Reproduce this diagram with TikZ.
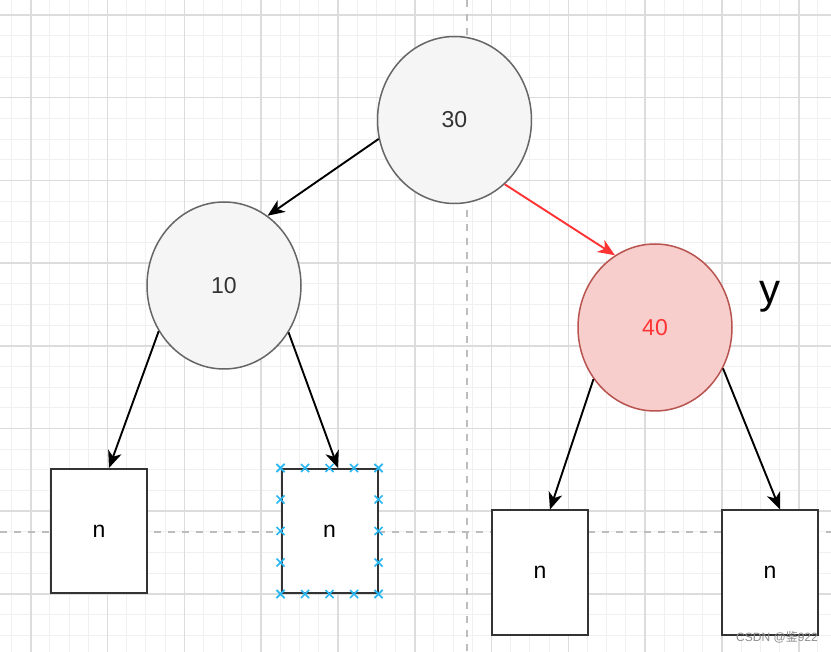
\documentclass[tikz,border=0pt]{standalone}
\usepackage{fontspec}
\setmainfont{Liberation Sans}
\newfontfamily\cjkfont{Noto Sans CJK SC}
\usepackage{xcolor}
\usetikzlibrary{shapes.geometric,arrows.meta,positioning,calc}
\definecolor{GridMinor}{HTML}{F0F0F0}
\definecolor{GridMajor}{HTML}{DCDCDC}
\definecolor{GuideGray}{HTML}{BDBDBD}
\definecolor{NodeGray}{HTML}{F5F5F5}
\definecolor{NodeBorder}{HTML}{666666}
\definecolor{NodeText}{HTML}{333333}
\definecolor{RedFill}{HTML}{F8CECC}
\definecolor{RedBorder}{HTML}{B85450}
\definecolor{RedLine}{HTML}{FF3333}
\definecolor{MarkBlue}{HTML}{29B6F2}
\tikzset{
    % Background grid
    grid minor/.style={
        draw=GridMinor,
        line width=1pt
    },
    grid major/.style={
        draw=GridMajor,
        line width=1.6pt
    },
    guide/.style={
        draw=GuideGray,
        line width=1.3pt,
        dash pattern=on 7pt off 7pt
    },
    % Tree nodes
    treenode/.style={
        ellipse,
        draw=NodeBorder,
        line width=1.5pt,
        fill=NodeGray,
        text=NodeText,
        minimum width=154pt,
        minimum height=167pt,
        inner sep=0pt,
        font=\fontsize{23}{27}\selectfont
    },
    treenode red/.style={
        treenode,
        draw=RedBorder,
        fill=RedFill,
        text=RedLine
    },
    % Empty leaves
    leafbox/.style={
        rectangle,
        draw=black!80,
        line width=2pt,
        fill=white,
        text=black,
        minimum width=96pt,
        minimum height=124pt,
        inner sep=0pt,
        font=\fontsize{23}{27}\selectfont
    },
    selmark/.style={
        draw=MarkBlue,
        line width=1.6pt
    },
    arrow/.style={
        -{Stealth[length=17pt,width=14pt,inset=5pt]},
        line width=1.9pt,
        color=black
    },
    arrow red/.style={
        arrow,
        color=RedLine
    },
    watermark/.style={
        text=black!45,
        font=\fontsize{12}{14}\selectfont,
        inner sep=0pt
    }
}

\begin{document}
\begin{tikzpicture}[x=1pt, y=-1pt]
        \useasboundingbox (0,0) rectangle (831,652);
        \fill[white] (0,0) rectangle (831,652);

        % Grid
        \foreach \i in {0,...,42}
            \draw[grid minor] (11.5+19.2*\i,0) -- (11.5+19.2*\i,652);
        \foreach \i in {0,...,30}
            \draw[grid minor] (0,15+20.67*\i) -- (831,15+20.67*\i);
        \foreach \i in {0,...,10}
            \draw[grid major] (30.7+76.8*\i,0) -- (30.7+76.8*\i,652);
        \foreach \i in {0,...,7}
            \draw[grid major] (0,15+82.7*\i) -- (831,15+82.7*\i);
        \draw[guide] (467,0) -- (467,652);
        \draw[guide] (0,532) -- (831,532);

        % Tree
        \node[treenode] (n30) at (454.5,120) {30};
        \node[treenode] (n10) at (224,285.5) {10};
        \node[treenode red] (n40) at (655,327.5) {40};
        \node[font=\fontsize{42}{46}\selectfont, inner sep=0pt] (ylabel) at (770,297) {y};

        % Leaves
        \node[leafbox] (l1) at (99,531) {n};
        \node[leafbox] (l2) at (329.5,531) {n};
        \node[leafbox] (l3) at (540,572.5) {n};
        \node[leafbox] (l4) at (770,572.5) {n};

        % Selection handles
        \foreach \t in {0,0.25,0.5,0.75,1} {
            \draw[selmark] ($(l2.north west)!\t!(l2.north east)$) +(-4,-4) -- +(4,4) +(-4,4) -- +(4,-4);
            \draw[selmark] ($(l2.south west)!\t!(l2.south east)$) +(-4,-4) -- +(4,4) +(-4,4) -- +(4,-4);
            \draw[selmark] ($(l2.north west)!\t!(l2.south west)$) +(-4,-4) -- +(4,4) +(-4,4) -- +(4,-4);
            \draw[selmark] ($(l2.north east)!\t!(l2.south east)$) +(-4,-4) -- +(4,4) +(-4,4) -- +(4,-4);
        }

        % Edges
        \draw[arrow] (n30.194) -- (n10.58);
        \draw[arrow red] (n30.308) -- (n40.119);
        \draw[arrow] (n10.215) -- ([xshift=10pt]l1.north);
        \draw[arrow] (n10.324) -- ([xshift=8.5pt]l2.north);
        \draw[arrow] (n40.220) -- ([xshift=10pt]l3.north);
        \draw[arrow] (n40.329) -- ([xshift=10pt]l4.north);

        \node[watermark] (mark) at (777,637) {CSDN @{\cjkfont 鉴}922};
    \end{tikzpicture}
\end{document}
